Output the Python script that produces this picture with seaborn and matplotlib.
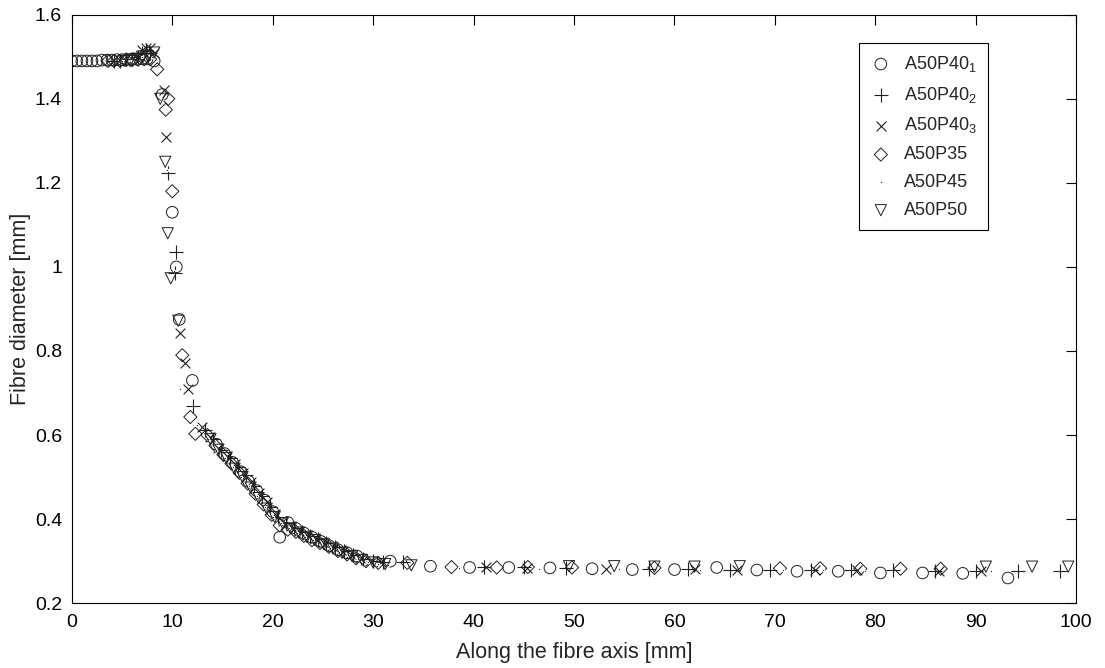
import matplotlib
matplotlib.use('Agg')
import matplotlib.pyplot as plt
import seaborn as sns
import pandas as pd

# A50P40_1 (circles)
x_p40_1 = [0, 0.5, 1, 1.5, 2, 2.5, 3, 3.5, 4, 4.5, 5, 5.5, 6, 6.5, 7, 7.5,
           8.2, 9.0, 10.0, 10.4, 10.7, 12.0,
           14.4, 15.2, 16.0, 16.8, 17.6, 18.4, 19.2, 20.0, 20.7, 21.5, 22.3, 23.1, 23.9, 24.8, 25.6, 26.5, 27.4, 28.4,
           31.7, 35.7, 39.6, 43.5, 47.6, 51.8, 55.8, 60.0, 64.2, 68.2, 72.2, 76.3, 80.5, 84.7, 88.7, 93.2]
y_p40_1 = [1.49, 1.49, 1.49, 1.49, 1.49, 1.49, 1.492, 1.492, 1.492, 1.493, 1.493, 1.494, 1.494, 1.494, 1.495, 1.495,
           1.49, 1.41, 1.13, 1.0, 0.875, 0.73,
           0.578, 0.556, 0.535, 0.513, 0.49, 0.468, 0.445, 0.418, 0.357, 0.392, 0.378, 0.367, 0.357, 0.347, 0.337, 0.327, 0.32, 0.312,
           0.30, 0.288, 0.285, 0.285, 0.284, 0.282, 0.28, 0.28, 0.285, 0.279, 0.276, 0.276, 0.272, 0.272, 0.271, 0.26]

# A50P40_2 (plus)
x_p40_2 = [4.2, 4.8, 5.4, 6.0, 6.6, 7.0, 7.4, 7.8,
           9.6, 10.35, 10.3, 12.1, 13.3,
           14.1, 14.9, 15.7, 16.5, 17.3, 18.1, 18.9, 19.7, 20.5, 21.3, 22.1, 22.9, 23.7, 24.5, 25.3, 26.2, 27.1, 28.0, 29.0, 30.0, 31.0, 33.0,
           41.0, 45.0, 49.2, 57.5, 61.3, 65.5, 69.5, 73.6, 77.6, 81.8, 85.9, 90.0, 94.2, 98.4]
y_p40_2 = [1.49, 1.49, 1.495, 1.495, 1.5, 1.51, 1.515, 1.51,
           1.224, 1.036, 0.985, 0.67, 0.612,
           0.59, 0.565, 0.545, 0.525, 0.505, 0.48, 0.455, 0.43, 0.405, 0.39, 0.38, 0.37, 0.36, 0.352, 0.343, 0.333, 0.323, 0.315, 0.305, 0.30, 0.297, 0.297,
           0.287, 0.285, 0.283, 0.282, 0.281, 0.28, 0.28, 0.279, 0.278, 0.278, 0.277, 0.277, 0.276, 0.276]

# A50P40_3 (cross)
x_p40_3 = [6.6, 7.0, 7.4, 7.8, 8.2,
           9.15, 9.35, 10.8, 11.3, 11.6,
           13.0, 13.8, 14.6, 15.4, 16.2, 17.0, 17.8, 18.6, 19.4, 20.2, 21.0, 21.8, 22.6, 23.4, 24.2, 25.0, 25.9, 26.8, 27.7, 28.7, 29.7, 30.8,
           41.2, 45.3, 53.2, 62.0, 66.2, 74.0, 78.2, 86.3, 90.5]
y_p40_3 = [1.50, 1.515, 1.52, 1.52, 1.51,
           1.42, 1.31, 0.843, 0.772, 0.709,
           0.62, 0.595, 0.57, 0.55, 0.53, 0.51, 0.488, 0.462, 0.44, 0.412, 0.395, 0.383, 0.372, 0.362, 0.354, 0.346, 0.336, 0.326, 0.317, 0.308, 0.301, 0.297,
           0.285, 0.284, 0.282, 0.281, 0.28, 0.279, 0.278, 0.277, 0.276]

# A50P35 (diamonds)
x_p35 = [3.6, 4.2, 4.8, 5.4, 6.0, 6.6, 7.2, 7.8,
         8.5, 9.35, 9.6, 10.0, 11.0, 11.8, 12.3,
         13.5, 14.3, 15.1, 15.9, 16.7, 17.5, 18.3, 19.1, 19.9, 20.7, 21.5, 22.3, 23.1, 23.9, 24.7, 25.6, 26.5, 27.4, 28.3, 29.3, 30.5,
         33.4, 37.8, 42.3, 45.4, 49.8, 58.0, 70.5, 74.5, 78.5, 82.5, 86.5]
y_p35 = [1.49, 1.49, 1.49, 1.492, 1.492, 1.493, 1.494, 1.494,
         1.47, 1.374, 1.40, 1.18, 0.79, 0.643, 0.603,
         0.60, 0.575, 0.553, 0.532, 0.51, 0.485, 0.46, 0.435, 0.41, 0.385, 0.375, 0.37, 0.36, 0.35, 0.343, 0.334, 0.324, 0.316, 0.307, 0.3, 0.296,
         0.296, 0.286, 0.285, 0.286, 0.285, 0.284, 0.283, 0.283, 0.282, 0.282, 0.282]

# A50P45 (dots)
x_p45 = [5.0, 6.0, 7.0, 8.0,
         9.0, 9.5, 10.2, 10.8,
         12.5, 13.6, 14.4, 15.2, 16.0, 16.8, 17.6, 18.4, 19.2, 20.0, 20.8, 21.6, 22.4, 23.2, 24.0, 24.8, 25.7, 26.6, 27.5, 28.5, 29.5, 30.5, 31.5,
         38.5, 46.5, 54.5, 62.5, 70.8, 74.8, 79.0, 91.5]
y_p45 = [1.49, 1.49, 1.50, 1.50,
         1.40, 1.23, 0.99, 0.71,
         0.625, 0.59, 0.565, 0.545, 0.525, 0.5, 0.478, 0.455, 0.43, 0.405, 0.39, 0.38, 0.368, 0.358, 0.35, 0.342, 0.332, 0.322, 0.314, 0.305, 0.298, 0.293, 0.29,
         0.283, 0.282, 0.281, 0.28, 0.279, 0.278, 0.277, 0.276]

# A50P50 (triangles down)
x_p50 = [5.2, 5.8, 6.4, 7.0, 7.6, 8.2,
         8.8, 9.3, 9.55, 9.85, 10.6,
         13.8, 14.6, 15.4, 16.2, 17.0, 17.8, 18.6, 19.4, 20.2, 21.0, 21.8, 22.6, 23.4, 24.2, 25.1, 26.0, 26.9, 27.9, 28.9, 30.0, 31.2,
         33.8, 49.5, 54.0, 58.0, 62.0, 66.5, 91.0, 95.6, 99.2]
y_p50 = [1.49, 1.49, 1.495, 1.5, 1.5, 1.51,
         1.40, 1.25, 1.08, 0.973, 0.872,
         0.59, 0.565, 0.545, 0.52, 0.5, 0.475, 0.45, 0.425, 0.405, 0.39, 0.378, 0.368, 0.358, 0.35, 0.34, 0.33, 0.32, 0.312, 0.303, 0.297, 0.293,
         0.29, 0.288, 0.288, 0.287, 0.287, 0.288, 0.287, 0.287, 0.287]

labels = [r'A50P40$_1$', r'A50P40$_2$', r'A50P40$_3$', 'A50P35', 'A50P45', 'A50P50']
x_ticks = [0, 10, 20, 30, 40, 50, 60, 70, 80, 90, 100]
y_ticks = [0.2, 0.4, 0.6, 0.8, 1.0, 1.2, 1.4, 1.6]
y_ticklabels = ['0.2', '0.4', '0.6', '0.8', '1', '1.2', '1.4', '1.6']

sns.set_style('white')
plt.rcParams['font.family'] = ['Liberation Sans', 'DejaVu Sans']
plt.rcParams['mathtext.default'] = 'regular'

series = [
    (x_p40_1, y_p40_1, 'o', 70),
    (x_p40_2, y_p40_2, '+', 90),
    (x_p40_3, y_p40_3, 'x', 50),
    (x_p35, y_p35, 'D', 45),
    (x_p45, y_p45, '.', 12),
    (x_p50, y_p50, 'v', 65),
]

fig = plt.figure(figsize=(11.05, 6.68), dpi=100)
ax = fig.add_axes([0.065, 0.097, 0.909, 0.881])

for (xs, ys, m, s), lab in zip(series, labels):
    df = pd.DataFrame({'x': xs, 'y': ys})
    if m in ('+', 'x', '.'):
        sns.scatterplot(data=df, x='x', y='y', marker=m, s=s, color='#202020',
                        linewidth=0.8, label=lab, ax=ax)
    else:
        sns.scatterplot(data=df, x='x', y='y', marker=m, s=s, facecolors='none',
                        edgecolor='#202020', linewidth=0.7, label=lab, ax=ax)

ax.set_xlim(0, 100)
ax.set_ylim(0.2, 1.6)
ax.set_xticks(x_ticks)
ax.set_xticklabels([str(t) for t in x_ticks])
ax.set_yticks(y_ticks)
ax.set_yticklabels(y_ticklabels)
ax.tick_params(direction='in', length=7, width=0.8, top=True, right=True,
               labelsize=14, colors='black')
ax.tick_params(axis='x', pad=8)
ax.tick_params(axis='y', pad=7)
for sp in ax.spines.values():
    sp.set_color('black')
    sp.set_linewidth(0.8)
ax.set_xlabel('Along the fibre axis [mm]', fontsize=15.5, labelpad=8)
ax.set_ylabel('Fibre diameter [mm]', fontsize=15.5, labelpad=3)

leg = ax.legend(loc='upper right', bbox_to_anchor=(0.912, 0.952), borderaxespad=0,
                frameon=True, fancybox=False, edgecolor='black', framealpha=1,
                prop={'family': ['Liberation Sans', 'DejaVu Sans'], 'size': 13},
                labelspacing=0.6, handletextpad=0.7, borderpad=0.6,
                handlelength=1.2)
leg.get_frame().set_linewidth(0.8)

fig.savefig('out.png', dpi=100)
